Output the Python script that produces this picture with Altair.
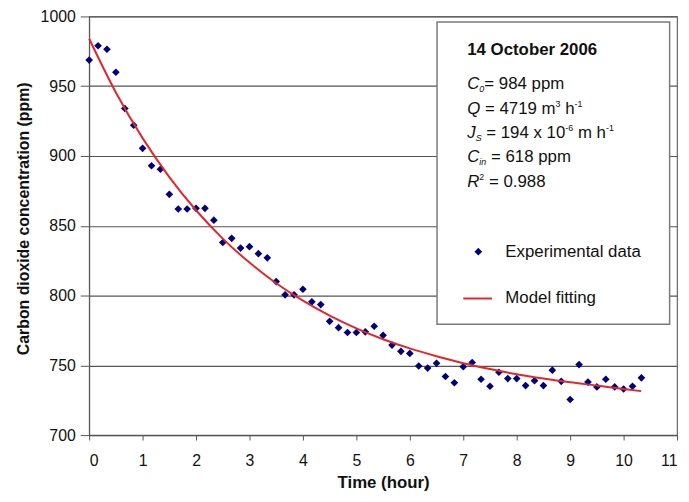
import altair as alt
import pandas as pd

# ---------------- data ----------------
minutes = [0, 10, 20, 30, 40, 50, 60, 70, 80, 90, 100, 110, 120, 130, 140, 150,
           160, 170, 180, 190, 200, 210, 220, 230, 240, 250, 260, 270, 280, 290,
           300, 310, 320, 330, 340, 350, 360, 370, 380, 390, 400, 410, 420, 430,
           440, 450, 460, 470, 480, 490, 500, 510, 520, 530, 540, 550, 560, 570,
           580, 590, 600, 610, 620]
co2_ppm = [968.7, 979.0, 976.5, 960.0, 934.0, 922.0, 905.5, 893.0, 890.5, 872.5,
           862.0, 862.0, 862.5, 862.5, 854.0, 838.0, 841.0, 834.0, 835.0, 830.0,
           827.0, 810.0, 800.5, 800.5, 804.5, 795.5, 793.5, 781.5, 777.0, 773.5,
           773.5, 774.0, 778.0, 771.5, 764.5, 760.0, 758.5, 749.5, 748.0, 751.5,
           742.0, 737.5, 749.0, 752.0, 740.0, 735.0, 745.0, 740.5, 740.5, 735.5,
           739.0, 735.5, 746.5, 738.5, 725.5, 750.5, 738.0, 734.5, 740.0, 734.5,
           733.0, 735.0, 741.0]

model_time = [0, 0.5, 1, 1.5, 2, 2.5, 3, 3.5, 4, 4.5, 5, 5.5, 6, 6.5, 7, 7.5,
              8, 8.5, 9, 9.5, 10, 10.33]
model_ppm = [984.0, 945.5, 912.8, 884.9, 861.1, 840.8, 823.6, 808.8, 796.3, 785.6,
             776.5, 768.7, 762.1, 756.5, 751.5, 747.3, 743.6, 740.5, 737.8, 735.5,
             733.0, 731.5]

x_ticks = [0, 0.5, 1, 1.5, 2, 2.5, 3, 3.5, 4, 4.5, 5, 5.5, 6, 6.5, 7, 7.5, 8,
           8.5, 9, 9.5, 10, 10.5, 11]
y_ticks = [700, 750, 800, 850, 900, 950, 1000]

exp_df = pd.DataFrame({"t": [m / 60 for m in minutes], "c": co2_ppm})
mod_df = pd.DataFrame({"t": model_time, "c": model_ppm})
dummy = pd.DataFrame({"k": [0]})

FONT = "Liberation Sans"
NAVY = "#00007f"
RED = "#e3262a"

# plot origin on the page (for annotation layout)
OX, OY = 89.5, 14.0
W_PLOT, H_PLOT = 594, 423

xs = alt.Scale(domain=[0, 11], nice=False, zero=False)
ys = alt.Scale(domain=[700, 1000], nice=False, zero=False)

x_axis = alt.Axis(values=x_ticks, labelExpr="datum.value % 1 == 0 ? datum.label : ''",
                  grid=False, tickSize=5, tickColor="#555", domainColor="#555",
                  labelFontSize=16, labelPadding=13, labelColor="#111",
                  title="Time (hour)", titleFontSize=17, titleFontWeight="bold",
                  titlePadding=6, titleColor="#111")
y_axis = alt.Axis(values=y_ticks, format="d", grid=True, gridColor="#555",
                  gridWidth=1.2, tickSize=9, tickColor="#555", domainColor="#555",
                  labelFontSize=16, labelPadding=5, labelColor="#111",
                  title="Carbon dioxide concentration (ppm)", titleFontSize=16,
                  titleFontWeight="bold", titleColor="#111",
                  titleX=31 - OX, titleY=204)

points = alt.Chart(exp_df).mark_point(shape="diamond", filled=True, size=60,
                                      color=NAVY, opacity=1).encode(
    x=alt.X("t:Q", scale=xs, axis=x_axis),
    y=alt.Y("c:Q", scale=ys, axis=y_axis),
)
line = alt.Chart(mod_df).mark_line(color=RED, strokeWidth=2,
                                   interpolate="monotone").encode(
    x=alt.X("t:Q", scale=xs),
    y=alt.Y("c:Q", scale=ys),
)

# ---------------- annotation box ----------------
box = alt.Chart(dummy).mark_rect(fill="white", stroke="#7a7a7a", strokeWidth=1.5).encode(
    x=alt.value(441 - OX), x2=alt.value(676 - OX),
    y=alt.value(19.5 - OY), y2=alt.value(325 - OY),
)

WID = {" ": 278, "=": 584, "x": 500, "m": 833, "h": 556, "p": 556, ".": 278,
       "-": 333, "C": 722, "Q": 778, "J": 500, "R": 722, "i": 222, "n": 556,
       "S": 667}


def text_w(s, size):
    return sum(WID.get(ch, 556) for ch in s) * size / 1000.0


def row(x0, base, pieces):
    """pieces: (text, size, italic, dy); leading spaces are turned into offsets."""
    out = []
    x = x0
    for txt, size, italic, dy in pieces:
        lead = len(txt) - len(txt.lstrip(" "))
        x += lead * WID[" "] * size / 1000.0
        body = txt.lstrip(" ")
        out.append(alt.Chart(dummy).mark_text(
            text=body, fontSize=size, fontStyle="italic" if italic else "normal",
            align="left", baseline="alphabetic", color="#111", font=FONT
        ).encode(x=alt.value(x - OX), y=alt.value(base + dy - OY)))
        x += text_w(body, size)
    return out


BIG, SMALL = 17, 9
texts = []
texts.append(alt.Chart(dummy).mark_text(
    text="14 October 2006", fontSize=17, fontWeight="bold", align="left",
    baseline="alphabetic", color="#111", font=FONT
).encode(x=alt.value(471.5 - OX), y=alt.value(52.5 - OY)))
texts += row(471.5, 87.5, [("C", BIG, True, 0), ("0", SMALL, True, 3),
                           ("= 984 ppm", BIG, False, 0)])
texts += row(471.5, 113.0, [("Q", BIG, True, 0), (" = 4719 m", BIG, False, 0),
                            ("3", SMALL, False, -7), (" h", BIG, False, 0),
                            ("-1", SMALL, False, -7)])
texts += row(471.5, 137.0, [("J", BIG, True, 0), ("S", SMALL, True, 3),
                            (" = 194 x 10", BIG, False, 0), ("-6", SMALL, False, -7),
                            (" m h", BIG, False, 0), ("-1", SMALL, False, -7)])
texts += row(471.5, 161.0, [("C", BIG, True, 0), ("in", SMALL, True, 3),
                            (" = 618 ppm", BIG, False, 0)])
texts += row(471.5, 186.0, [("R", BIG, True, 0), ("2", SMALL, False, -7),
                            (" = 0.988", BIG, False, 0)])

leg_pt = alt.Chart(dummy).mark_point(shape="diamond", filled=True, size=60,
                                     color=NAVY, opacity=1).encode(
    x=alt.value(482.7 - OX), y=alt.value(251.7 - OY))
leg_line = alt.Chart(dummy).mark_rule(color=RED, strokeWidth=2).encode(
    x=alt.value(467.5 - OX), x2=alt.value(496.5 - OX), y=alt.value(299 - OY))
leg_t1 = alt.Chart(dummy).mark_text(
    text="Experimental data", fontSize=17, align="left", baseline="middle",
    color="#111", font=FONT).encode(x=alt.value(510 - OX), y=alt.value(251.7 - OY))
leg_t2 = alt.Chart(dummy).mark_text(
    text="Model fitting", fontSize=17, align="left", baseline="middle",
    color="#111", font=FONT).encode(x=alt.value(510 - OX), y=alt.value(299 - OY))

chart = alt.layer(points, line, box, *texts, leg_pt, leg_line, leg_t1, leg_t2).properties(
    width=W_PLOT, height=H_PLOT,
    padding={"left": 82, "top": 6, "right": 4, "bottom": 57},
    autosize=alt.AutoSizeParams(type="none"),
).configure(font=FONT).configure_view(stroke="#666", strokeWidth=1.2)

chart.save("out.html", embed_options={"renderer": "svg", "actions": False})
